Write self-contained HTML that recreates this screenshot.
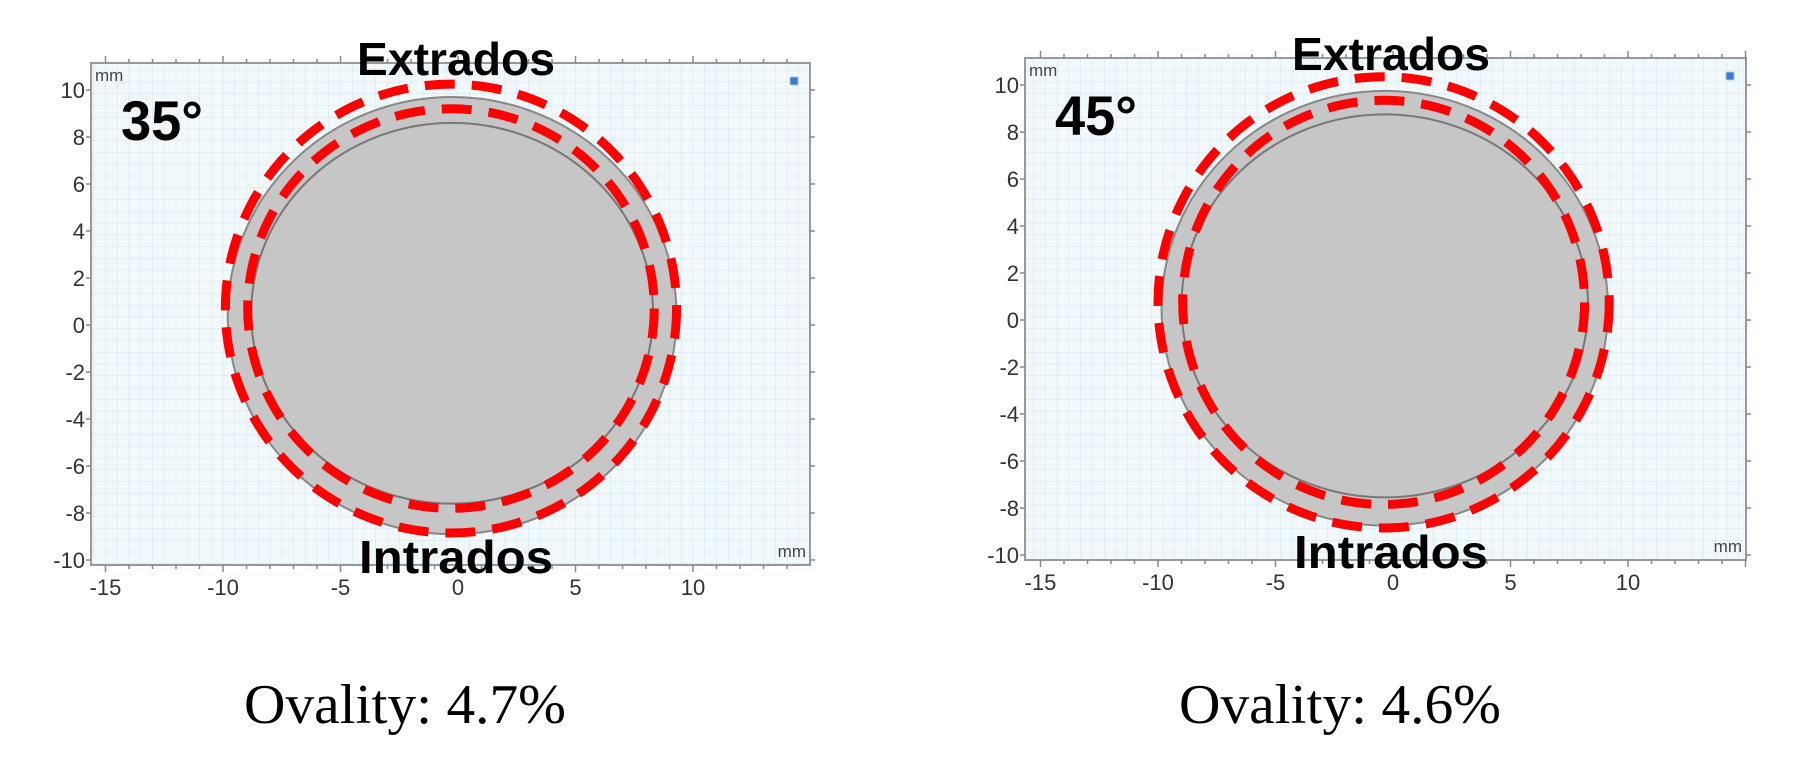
<!DOCTYPE html>
<html><head><meta charset="utf-8"><style>
html,body{margin:0;padding:0;background:#fff;width:1809px;height:769px;overflow:hidden}
svg text{font-family:"Liberation Sans",sans-serif}
</style></head><body>
<svg id="fig" width="1809" height="769" viewBox="0 0 1809 769" xmlns="http://www.w3.org/2000/svg">
<defs>
<pattern id="grid" width="11.75" height="11.75" patternUnits="userSpaceOnUse">
<rect width="11.75" height="11.75" fill="#f1f9fc"/>
<path d="M11.75 0V11.75M0 11.75H11.75" stroke="#d3e4ec" stroke-width="1" fill="none"/>
</pattern>
</defs>
</svg>
<script>
const panelNames=['panel-35deg','panel-45deg'];
const angleLabels=['35°','45°'];
const ovalityLabels=['Ovality: 4.7%','Ovality: 4.6%'];
const xTicks=[-15,-10,-5,0,5,10];
const yTicks=[10,8,6,4,2,0,-2,-4,-6,-8,-10];
// ellipse data in mm: [cx, cy, rx, ry]
const outerWall=[[-0.25,0.4,9.55,9.3],[-0.35,0.5,9.5,9.25]];
const innerWall=[[-0.25,0.5,8.55,8.1],[-0.35,0.6,8.65,8.15]];
const redOuter=[[-0.3,0.7,9.6,9.55],[-0.4,0.75,9.6,9.6]];
const redInner=[[-0.3,0.7,8.65,8.5],[-0.4,0.75,8.55,8.6]];
const boxes=[{l:91,t:63,r:810,b:565,x0:458,y0:325},{l:1025,t:58,r:1746,b:560,x0:1393,y0:320}];
const ovalX=[405,1340];
const S=23.5;
const svg=document.getElementById('fig');
const NS='http://www.w3.org/2000/svg';
function mk(tag,attrs,parent){const e=document.createElementNS(NS,tag);for(const k in attrs)e.setAttribute(k,attrs[k]);(parent||svg).appendChild(e);return e;}
boxes.forEach((B,i)=>{
  const sx=v=>B.x0+v*S, sy=v=>B.y0-v*S;
  const g=mk('g',{});
  
  
  const bg=mk('rect',{x:B.l,y:B.t,width:B.r-B.l,height:B.b-B.t,fill:'url(#grid)',stroke:'#999','stroke-width':2},g);
  
  
  // minor ticks on edges
  for(let v=-16;v<=15;v++){
    const x=sx(v); if(x<B.l||x>B.r)continue;
    const len=v%5===0?7:4;
    mk('line',{x1:x,y1:B.b,x2:x,y2:B.b+len,stroke:'#888','stroke-width':1.5},g);
    mk('line',{x1:x,y1:B.t,x2:x,y2:B.t-len,stroke:'#888','stroke-width':1.5},g);
  }
  yTicks.forEach(v=>{
    const y=sy(v);
    mk('line',{x1:B.l-5,y1:y,x2:B.l,y2:y,stroke:'#888','stroke-width':1.5},g);
    mk('line',{x1:B.r,y1:y,x2:B.r+5,y2:y,stroke:'#888','stroke-width':1.5},g);
    const t=mk('text',{x:B.l-6,y:y+8,'text-anchor':'end','font-size':22,fill:'#333'},g);
    t.textContent=v;
    
    
  });
  xTicks.forEach(v=>{
    const t=mk('text',{x:sx(v),y:B.b+30,'text-anchor':'middle','font-size':22,fill:'#333'},g);
    t.textContent=v;
    
    
  });
  const mm1=mk('text',{x:B.l+4,y:B.t+18,'font-size':17,fill:'#444'},g);mm1.textContent='mm';
  
  
  const mm2=mk('text',{x:B.r-4,y:B.b-8,'text-anchor':'end','font-size':17,fill:'#444'},g);mm2.textContent='mm';
  
  
  const ic=mk('rect',{x:B.r-20,y:B.t+14,width:8,height:8,fill:'#3a7bd5',stroke:'#9cc',rx:1},g);
  
  
  const ell=(d,attrs,name)=>{const e=mk('ellipse',Object.assign({cx:sx(d[0]),cy:sy(d[1]),rx:d[2]*S,ry:d[3]*S},attrs),g);return e;};
  ell(outerWall[i],{fill:'#c6c6c6',stroke:'#888','stroke-width':2},'outer-wall');
  ell(innerWall[i],{fill:'#c6c6c6',stroke:'#777','stroke-width':2},'inner-wall');
  ell(redOuter[i],{fill:'none',stroke:'#ff0000','stroke-width':9,'stroke-dasharray':'30 17'},'deformed-outer-dashed');
  ell(redInner[i],{fill:'none',stroke:'#ff0000','stroke-width':9,'stroke-dasharray':'30 17'},'deformed-inner-dashed');
  const cx=sx(0)-2;
  const ex=mk('text',{x:cx,y:B.t+12,'text-anchor':'middle','font-size':46,'font-weight':'bold',fill:'#000',textLength:198,lengthAdjust:'spacingAndGlyphs'},g);
  ex.textContent='Extrados';
  
  
  const inn=mk('text',{x:cx,y:B.b+8,'text-anchor':'middle','font-size':46,'font-weight':'bold',fill:'#000',textLength:194,lengthAdjust:'spacingAndGlyphs'},g);
  inn.textContent='Intrados';
  
  
  const an=mk('text',{x:B.l+30,y:B.t+77,'font-size':56,'font-weight':'bold',fill:'#000',textLength:82,lengthAdjust:'spacingAndGlyphs'},g);
  an.textContent=angleLabels[i];
  
  
  const ov=mk('text',{x:ovalX[i],y:723,'text-anchor':'middle','font-size':56,fill:'#000',textLength:322,lengthAdjust:'spacingAndGlyphs'});
  ov.style.fontFamily='"Liberation Serif",serif';
  ov.textContent=ovalityLabels[i];
  
  
});
</script>
</body></html>
